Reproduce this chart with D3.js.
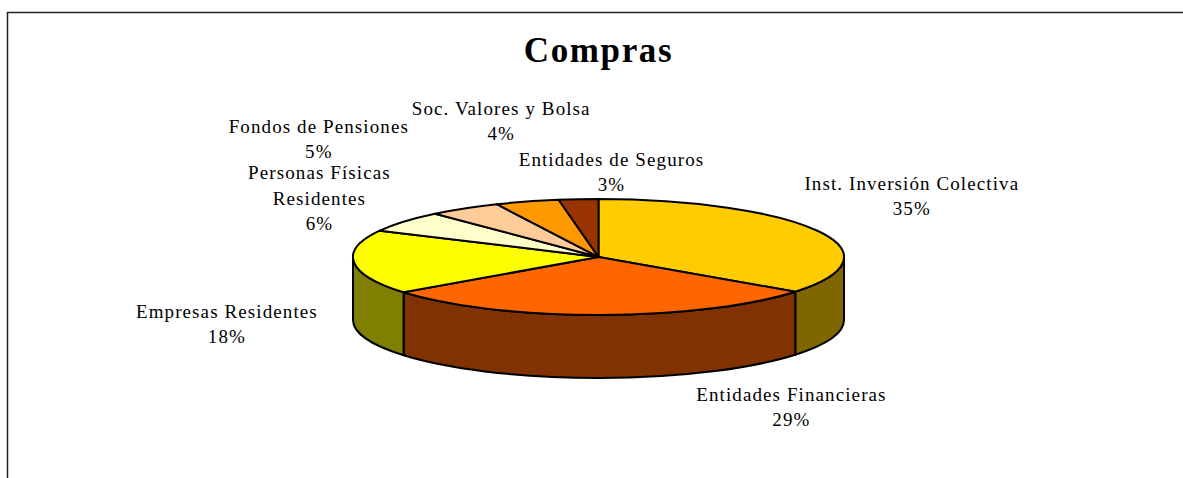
<!DOCTYPE html>
<html>
<head>
<meta charset="utf-8">
<script src="https://cdn.jsdelivr.net/npm/d3@7"></script>
<style>
  body { margin: 0; background: #fff; }
  svg { display: block; }
  text { font-family: "Liberation Serif", "Times New Roman", serif; fill: #000; }
</style>
</head>
<body>
<div class="chart"></div>
<script>
// data
var categories = ["Inst. Inversión Colectiva", "Entidades Financieras", "Empresas Residentes",
  "Personas Físicas|Residentes", "Fondos de Pensiones", "Soc. Valores y Bolsa", "Entidades de Seguros"];
var values = [35.2, 29.4, 17.9, 5.9, 4.8, 4.2, 2.6];
var topColors = ["#FFCC00", "#FF6600", "#FFFF00", "#FFFFCC", "#FFCC99", "#FF9900", "#993300"];
var sideColors = ["#806600", "#803300", "#808000", "#808066", "#80664D", "#804D00", "#4D1A00"];
var title = "Compras";

// label nudges from the slice anchor (manual placement like the original)
var labelNudge = [[39, -28], [191, 78], [-66, 61], [-36, -14], [-112, -57], [-8, -66], [38, -12]];

var width = 1183,
    height = 478;

var cx = 598.5, cy = 257, rx = 245.5, ry = 58, depth = 63;

var svg = d3.select(".chart").append("svg")
  .attr("width", width)
  .attr("height", height);

// chart frame (cut off by the window on right and bottom)
svg.append("rect")
  .attr("x", 7.5).attr("y", 12.5)
  .attr("width", 1400).attr("height", 600)
  .style("fill", "none")
  .style("stroke", "#222")
  .style("stroke-width", 1.5);

svg.append("text")
  .attr("x", cx).attr("y", 62)
  .attr("text-anchor", "middle")
  .style("font-size", "35px")
  .style("font-weight", "bold")
  .style("letter-spacing", "1.6px")
  .text(title);

var pie = d3.pie().sort(null).startAngle(0).endAngle(2 * Math.PI);
var arcs = pie(values);

function pt(a, dy) {
  return [cx + rx * Math.sin(a), cy - ry * Math.cos(a) + (dy || 0)];
}

function topPath(d) {
  var p0 = pt(d.startAngle), p1 = pt(d.endAngle);
  var large = (d.endAngle - d.startAngle) > Math.PI ? 1 : 0;
  return "M" + cx + "," + cy + "L" + p0 + "A" + rx + "," + ry + " 0 " + large + " 1 " + p1 + "Z";
}

function sidePath(d) {
  var b0 = Math.max(d.startAngle, Math.PI / 2),
      b1 = Math.min(d.endAngle, 3 * Math.PI / 2);
  if (b1 <= b0) return null;
  var p0 = pt(b0), p1 = pt(b1), q0 = pt(b0, depth), q1 = pt(b1, depth);
  return "M" + p0 + "A" + rx + "," + ry + " 0 0 1 " + p1 +
    "L" + q1 + "A" + rx + "," + ry + " 0 0 0 " + q0 + "Z";
}

var g = svg.append("g");

g.selectAll("path.side")
  .data(arcs.filter(function(d) { return sidePath(d) !== null; }))
  .enter()
  .append("path")
  .attr("class", "side")
  .attr("d", sidePath)
  .style("fill", function(d) { return sideColors[d.index]; })
  .style("stroke", "#000")
  .style("stroke-width", 2)
  .style("stroke-linejoin", "round");

g.selectAll("path.top")
  .data(arcs)
  .enter()
  .append("path")
  .attr("class", "top")
  .attr("d", topPath)
  .style("fill", function(d) { return topColors[d.index]; })
  .style("stroke", "#000")
  .style("stroke-width", 2)
  .style("stroke-linejoin", "round");

// labels
var lineH = 25.5;
svg.selectAll("text.label")
  .data(arcs)
  .enter()
  .append("text")
  .attr("class", "label")
  .attr("text-anchor", "middle")
  .style("font-size", "19px")
  .style("letter-spacing", "1.1px")
  .each(function(d) {
    var mid = (d.startAngle + d.endAngle) / 2;
    var x = cx + 1.25 * rx * Math.sin(mid) + labelNudge[d.index][0];
    var y = cy - 1.25 * ry * Math.cos(mid) + labelNudge[d.index][1];
    var lines = categories[d.index].split("|").concat([Math.round(d.value) + "%"]);
    var y0 = y + 6 - (lines.length - 1) * lineH / 2;
    var t = d3.select(this);
    lines.forEach(function(s, i) {
      t.append("tspan").attr("x", x).attr("y", y0 + i * lineH).text(s);
    });
  });
</script>
</body>
</html>
